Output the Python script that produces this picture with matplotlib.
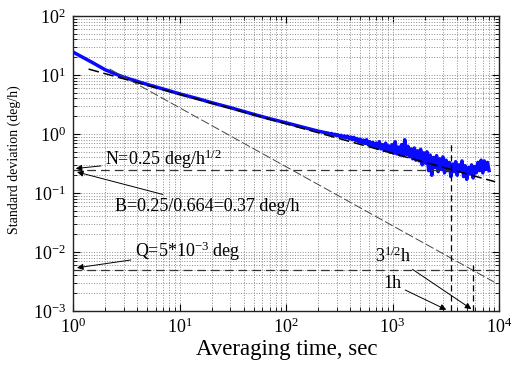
import matplotlib
matplotlib.use("Agg")
import matplotlib.pyplot as plt

plt.rcParams["font.family"] = ["Liberation Serif", "DejaVu Serif"]
plt.rcParams["mathtext.fontset"] = "custom"
plt.rcParams["mathtext.rm"] = "Liberation Serif"
plt.rcParams["mathtext.it"] = "Liberation Serif:italic"
plt.rcParams["mathtext.bf"] = "Liberation Serif:bold"

# measured Allan deviation (deg/h) vs averaging time (s)
tau_smooth = [1.0, 1.2, 1.5, 2.0, 2.5, 3, 4, 5, 7, 10, 15, 20, 30, 50, 70, 100, 150, 200, 230]
sigma_smooth = [24.5, 20.5, 16.5, 12.3, 10.4, 9.2, 7.8, 6.9, 5.8, 4.8, 3.95, 3.4, 2.8, 2.15,
                1.82, 1.55, 1.28, 1.12, 1.06]
tau_noisy = [250, 259, 268, 277, 287, 297, 307, 318, 329, 341,
             353, 365, 378, 391, 405, 419, 434, 449, 465, 481,
             498, 515, 533, 552, 571, 591, 612, 633, 655, 678,
             702, 727, 752, 778, 805, 833, 862, 893, 924, 956,
             990, 1025, 1060, 1097, 1136, 1175, 1216, 1259, 1303, 1349,
             1396, 1445, 1495, 1548, 1602, 1658, 1716, 1776, 1838, 1902,
             1969, 2038, 2109, 2183, 2259, 2338, 2420, 2505, 2593, 2683,
             2777, 2874, 2975, 3079, 3187, 3298, 3414, 3533, 3657, 3785,
             3917, 4054, 4196, 4343, 4495, 4652, 4815, 4983, 5158, 5338,
             5525, 5718, 5918, 6125, 6340, 6561, 6791, 7029, 7275, 7529,
             7793, 8065]
sigma_noisy = [1.03, 1.00, 1.02, 0.97, 0.99, 0.94, 0.97, 0.91, 0.95, 0.88,
               0.93, 0.86, 0.92, 0.83, 0.89, 0.80, 0.88, 0.78, 0.84, 0.74,
               0.82, 0.71, 0.79, 0.69, 0.80, 0.66, 0.74, 0.63, 0.72, 0.60,
               0.70, 0.57, 0.74, 0.56, 0.66, 0.53, 0.70, 0.52, 0.63, 0.49,
               0.66, 0.47, 0.74, 0.46, 0.60, 0.44, 0.66, 0.43, 0.80, 0.45,
               0.62, 0.41, 0.56, 0.38, 0.58, 0.36, 0.52, 0.35, 0.55, 0.30,
               0.48, 0.32, 0.50, 0.24, 0.44, 0.20, 0.40, 0.27, 0.43, 0.23,
               0.38, 0.25, 0.41, 0.22, 0.36, 0.24, 0.33, 0.19, 0.31, 0.23,
               0.34, 0.20, 0.30, 0.24, 0.35, 0.19, 0.29, 0.17, 0.27, 0.21,
               0.30, 0.18, 0.28, 0.22, 0.33, 0.24, 0.36, 0.22, 0.35, 0.25,
               0.33, 0.24]

# fitted asymptotes and reference levels
n_tau = [1.4, 9200]
n_sigma = [12.6, 0.155]
q_tau = [2.2, 9000]
q_sigma = [12.7, 0.0031]
N_level = 0.25
Q_level = 5e-3
t_1h = 3540
t_sqrt3h = 5700

fig = plt.figure(figsize=(5.15, 3.73), dpi=100)
ax = fig.add_axes([73 / 515, 1 - 311 / 373, 426 / 515, 295 / 373])
ax.set_xscale("log")
ax.set_yscale("log")
ax.set_xlim(1, 1e4)
ax.set_ylim(1e-3, 1e2)

ax.grid(True, which="both", linestyle=":", color="#8c8c8c", linewidth=0.7)
ax.set_axisbelow(True)

ax.plot(tau_smooth + tau_noisy, sigma_smooth + sigma_noisy, color="#0a0aff",
        linewidth=2.5, zorder=3)
ax.plot(n_tau, n_sigma, color="black", linestyle=(0, (7, 3)), linewidth=1.1, zorder=4)
ax.plot(q_tau, q_sigma, color="#444444", linestyle=(0, (9, 3)), linewidth=0.7, zorder=4)
ax.plot([1, t_1h], [N_level, N_level], color="#333333", linestyle=(0, (7, 4)),
        linewidth=0.9, zorder=4)
ax.plot([1, 1e4], [Q_level, Q_level], color="#333333", linestyle=(0, (7, 4)),
        linewidth=0.9, zorder=4)
ax.plot([t_1h, t_1h], [1e-3, 0.73], color="black", linestyle=(0, (5, 3)),
        linewidth=0.9, zorder=4)
ax.plot([t_sqrt3h, t_sqrt3h], [1e-3, 0.006], color="black", linestyle=(0, (5, 3)),
        linewidth=0.9, zorder=4)

ax.tick_params(which="both", direction="in", top=True, right=True, labelsize=13)
ax.tick_params(which="major", length=5)
ax.tick_params(which="minor", length=3)
ax.tick_params(axis="x", pad=5)
ax.tick_params(axis="y", pad=5)
for s in ax.spines.values():
    s.set_linewidth(1.0)
    s.set_color("#222222")

arrow = dict(arrowstyle="-|>", color="black", linewidth=0.7, mutation_scale=9,
             shrinkA=1, shrinkB=0)
ax.annotate(r"N=0.25 deg/h$^{1/2}$", xy=(1.06, 0.26), xytext=(2.0, 0.37),
            fontsize=13, ha="left", va="center", arrowprops=arrow, zorder=5)
ax.annotate("B=0.25/0.664=0.37 deg/h", xy=(1.09, 0.227), xytext=(2.48, 0.06),
            fontsize=13, ha="left", va="center", arrowprops=arrow, zorder=5)
ax.annotate(r"Q=5*10$^{-3}$ deg", xy=(1.09, 0.0054), xytext=(3.82, 0.0101),
            fontsize=13, ha="left", va="center", arrowprops=arrow, zorder=5)
ax.annotate(r"3$^{1/2}$h", xy=(5500, 0.00108), xytext=(1010, 0.0085),
            fontsize=13, ha="center", va="center", arrowprops=arrow, zorder=5)
ax.annotate("1h", xy=(3200, 0.00105), xytext=(990, 0.0029),
            fontsize=13, ha="center", va="center", arrowprops=arrow, zorder=5)

fig.text(287 / 515, 1 - 350 / 373, "Averaging time, sec", fontsize=16.5,
         ha="center", va="center")
fig.text(14 / 515, 1 - 160 / 373, "Standard deviation (deg/h)", fontsize=10,
         rotation=90, ha="center", va="center")

fig.savefig("out.png", dpi=100)
